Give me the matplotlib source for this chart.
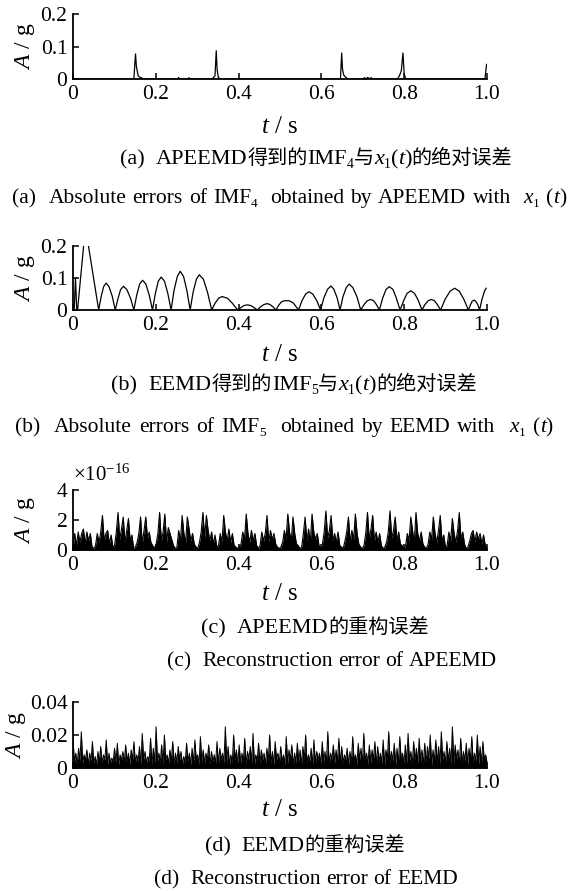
import numpy as np
import matplotlib
matplotlib.use('Agg')
import matplotlib.pyplot as plt
from matplotlib.transforms import IdentityTransform

SERIF = 'Liberation Serif'
CJK = 'Noto Sans CJK SC'
plt.rcParams['font.family'] = [SERIF, CJK]
plt.rcParams['mathtext.fontset'] = 'custom'
plt.rcParams['mathtext.rm'] = SERIF
plt.rcParams['mathtext.it'] = SERIF + ':italic'

# ---- data ----
x_ticks = [0, 0.2, 0.4, 0.6, 0.8, 1.0]
x_tick_labels = ['0', '0.2', '0.4', '0.6', '0.8', '1.0']

# (a) APEEMD IMF4 absolute error
t_a = [0.0, 0.147, 0.151, 0.153, 0.157, 0.160, 0.165, 0.170, 0.254, 0.255, 0.256,
       0.279, 0.280, 0.281, 0.336, 0.340, 0.343, 0.346, 0.348, 0.351, 0.355,
       0.646, 0.649, 0.651, 0.654, 0.658, 0.664, 0.700, 0.704, 0.708, 0.712,
       0.716, 0.720, 0.725, 0.730, 0.784, 0.789, 0.793, 0.797, 0.800, 0.804,
       0.995, 0.999]
a_err = [0.0, 0.0, 0.077, 0.040, 0.012, 0.006, 0.004, 0.0, 0.0, 0.005, 0.0,
         0.0, 0.004, 0.0, 0.0, 0.006, 0.010, 0.087, 0.030, 0.006, 0.0,
         0.0, 0.080, 0.030, 0.012, 0.006, 0.0, 0.0, 0.004, 0.0, 0.005,
         0.0, 0.004, 0.0, 0.0, 0.0, 0.012, 0.025, 0.080, 0.015, 0.0,
         0.0, 0.045]

# (b) EEMD IMF5 absolute error (one row per arch)
t_b = [0.0, 0.003, 0.006, 0.009, 0.011, 0.030,
       0.062, 0.068, 0.074, 0.080, 0.087, 0.095, 0.102,
       0.109, 0.115, 0.122, 0.130, 0.139, 0.147,
       0.154, 0.161, 0.168, 0.176, 0.184, 0.192,
       0.199, 0.206, 0.213, 0.221, 0.229, 0.237,
       0.244, 0.252, 0.259, 0.267, 0.275, 0.283,
       0.290, 0.298, 0.305, 0.315, 0.325, 0.335,
       0.343, 0.352, 0.360, 0.373, 0.385, 0.398,
       0.406, 0.413, 0.421, 0.429, 0.437, 0.445,
       0.453, 0.461, 0.469, 0.476, 0.483, 0.490,
       0.497, 0.503, 0.510, 0.522, 0.532, 0.545,
       0.553, 0.562, 0.570, 0.579, 0.589, 0.598,
       0.606, 0.615, 0.623, 0.630, 0.638, 0.645,
       0.652, 0.660, 0.667, 0.676, 0.686, 0.695,
       0.703, 0.711, 0.719, 0.726, 0.733, 0.740,
       0.748, 0.756, 0.764, 0.773, 0.781, 0.790,
       0.799, 0.807, 0.816, 0.825, 0.834, 0.843,
       0.850, 0.858, 0.865, 0.873, 0.880, 0.888,
       0.899, 0.911, 0.922, 0.933, 0.944, 0.955,
       0.960, 0.964, 0.969, 0.973, 0.978, 0.982,
       0.988, 0.994, 0.998]
b_err = [0.0, 0.0, 0.100, 0.0, 0.0, 0.26,
         0.0, 0.042, 0.073, 0.084, 0.073, 0.042, 0.0,
         0.037, 0.064, 0.074, 0.064, 0.037, 0.0,
         0.047, 0.081, 0.093, 0.081, 0.047, 0.0,
         0.052, 0.090, 0.103, 0.090, 0.052, 0.0,
         0.061, 0.105, 0.121, 0.105, 0.061, 0.0,
         0.055, 0.096, 0.110, 0.096, 0.055, 0.0,
         0.021, 0.037, 0.042, 0.037, 0.021, 0.0,
         0.008, 0.014, 0.016, 0.014, 0.008, 0.0,
         0.010, 0.017, 0.020, 0.017, 0.010, 0.0,
         0.015, 0.025, 0.029, 0.029, 0.022, 0.0,
         0.029, 0.050, 0.057, 0.050, 0.029, 0.0,
         0.038, 0.065, 0.075, 0.065, 0.038, 0.0,
         0.041, 0.070, 0.081, 0.070, 0.041, 0.0,
         0.017, 0.029, 0.033, 0.029, 0.017, 0.0,
         0.037, 0.064, 0.073, 0.064, 0.037, 0.0,
         0.030, 0.052, 0.060, 0.052, 0.030, 0.0,
         0.017, 0.029, 0.033, 0.029, 0.017, 0.0,
         0.034, 0.059, 0.068, 0.059, 0.034, 0.0,
         0.016, 0.027, 0.031, 0.027, 0.016, 0.0,
         0.034, 0.059, 0.068]

# (c) APEEMD reconstruction error, units of 1e-16
c_err = [0.1, 1.1, 0.3, 1.2, 0.5, 1.1, 1.4, 0.4, 1.2, 0.6, 1.1, 0.2,
         0.1, 0.3, 1.1, 0.5, 1.2, 2.3, 0.6, 1.1, 1.3, 0.4, 1.0, 0.2,
         0.3, 1.2, 2.5, 0.7, 1.4, 2.2, 0.5, 1.3, 2.1, 0.6, 1.0, 0.1,
         0.2, 0.5, 1.1, 2.2, 0.4, 1.3, 2.2, 0.8, 1.2, 0.5, 0.3, 0.1,
         0.4, 1.1, 2.5, 0.6, 1.2, 2.4, 0.5, 1.5, 1.1, 0.7, 0.3, 0.1,
         0.2, 1.3, 0.6, 2.3, 1.1, 0.5, 2.2, 1.4, 0.6, 1.1, 0.4, 0.2,
         0.1, 0.5, 1.2, 2.5, 0.8, 2.3, 1.3, 0.6, 1.2, 0.4, 1.0, 0.2,
         0.3, 1.1, 0.5, 2.3, 1.2, 0.6, 1.4, 0.5, 1.1, 0.3, 0.2, 0.1,
         0.2, 0.4, 1.2, 0.7, 2.4, 1.1, 0.5, 1.3, 0.6, 1.1, 0.3, 0.1,
         0.3, 1.2, 0.6, 1.1, 2.3, 0.5, 1.3, 0.7, 1.1, 0.4, 0.2, 0.1,
         0.2, 0.5, 1.3, 0.7, 2.4, 1.2, 0.6, 2.2, 1.1, 0.4, 0.3, 0.1,
         0.2, 1.1, 2.2, 0.6, 1.4, 0.5, 2.4, 1.2, 0.7, 1.1, 0.3, 0.1,
         0.4, 1.2, 2.6, 0.8, 1.3, 2.3, 0.6, 1.1, 0.5, 1.2, 0.3, 0.2,
         0.1, 0.6, 1.2, 2.2, 0.5, 1.3, 0.7, 2.4, 1.1, 0.4, 0.2, 0.1,
         0.3, 1.1, 2.5, 0.7, 1.4, 2.3, 0.6, 1.2, 0.5, 1.1, 0.3, 0.1,
         0.2, 0.5, 1.2, 2.6, 0.8, 1.3, 2.2, 0.6, 1.2, 0.4, 0.3, 0.1,
         0.3, 1.1, 0.6, 2.2, 1.3, 0.5, 2.5, 1.1, 0.6, 1.2, 0.4, 0.2,
         0.1, 0.4, 1.2, 0.7, 2.2, 1.1, 0.5, 1.3, 2.3, 0.6, 1.0, 0.2,
         0.3, 1.2, 0.6, 2.1, 1.1, 0.5, 1.3, 2.5, 0.7, 1.2, 0.4, 0.1,
         0.2, 0.6, 1.1, 1.3, 0.5, 1.2, 0.7, 1.1, 0.4, 1.0, 0.3, 0.2]

# (d) EEMD reconstruction error, units of 1e-3
d_err = [18, 3, 9, 2, 12, 4, 22, 3, 8, 5, 11, 2, 9, 4, 16, 3, 7, 2, 10, 4,
         13, 3, 8, 5, 17, 2, 9, 3, 6, 4, 12, 3, 15, 2, 8, 5, 10, 3, 14, 4,
         9, 2, 11, 5, 16, 3, 8, 4, 13, 2, 21, 5, 10, 3, 7, 4, 18, 2, 12, 3,
         25, 4, 9, 3, 14, 2, 20, 5, 8, 3, 11, 4, 16, 2, 9, 3, 13, 5, 10, 2,
         7, 3, 15, 4, 9, 2, 12, 3, 17, 5, 8, 2, 19, 4, 11, 3, 9, 5, 14, 2,
         10, 4, 8, 3, 16, 2, 12, 5, 9, 3, 25, 4, 13, 2, 8, 3, 20, 5, 11, 2,
         14, 3, 9, 4, 18, 2, 10, 5, 13, 3, 21, 2, 8, 4, 15, 3, 11, 5, 9, 2,
         12, 4, 20, 3, 10, 2, 16, 5, 9, 3, 13, 4, 8, 2, 19, 3, 11, 5, 14, 2,
         9, 3, 15, 4, 11, 2, 13, 5, 20, 3, 8, 4, 12, 2, 17, 3, 10, 5, 9, 2,
         16, 4, 10, 3, 22, 2, 9, 5, 14, 3, 11, 4, 18, 2, 13, 3, 8, 5, 12, 2,
         10, 3, 19, 4, 8, 2, 15, 5, 12, 3, 21, 4, 9, 2, 14, 3, 11, 5, 16, 2,
         13, 4, 9, 3, 17, 2, 11, 5, 22, 3, 10, 4, 15, 2, 12, 3, 19, 5, 9, 2,
         14, 3, 21, 4, 10, 2, 16, 5, 12, 3, 18, 4, 11, 2, 15, 3, 13, 5, 20, 2,
         11, 4, 17, 3, 13, 2, 22, 5, 10, 3, 16, 4, 12, 2, 25, 3, 14, 5, 11, 2,
         18, 3, 10, 4, 15, 2, 12, 5, 19, 3, 9, 4, 20, 2, 13, 3, 16, 5, 8, 4]

t_c = np.linspace(0, 1, len(c_err))
t_d = np.linspace(0, 1, len(d_err))
d_vals = np.array(d_err) / 1000

W, H = 570, 891
TICK_FS = 15.5
fig = plt.figure(figsize=(W / 100, H / 100), dpi=100)


def panel(top_px, zero_px, yticks, ylabels, xlab_gap, ylab_x):
    ax = fig.add_axes([73 / W, 1 - zero_px / H, 414 / W, (zero_px - top_px) / H])
    ax.set_xlim(0, 1)
    ax.set_ylim(yticks[0], yticks[-1])
    ax.set_xticks(x_ticks, x_tick_labels)
    ax.set_yticks(yticks, ylabels)
    for s in ['top', 'right']:
        ax.spines[s].set_visible(False)
    for s in ['left', 'bottom']:
        ax.spines[s].set_linewidth(1.3)
    ax.tick_params(direction='in', length=4, width=1.1, labelsize=TICK_FS, pad=4)
    ax.set_xlabel(r'$t$ / s', fontsize=18, va='top')
    ax.xaxis.set_label_coords(0.5, -xlab_gap / (zero_px - top_px))
    ax.set_ylabel(r'$A$ / g', fontsize=17)
    ax.yaxis.set_label_coords((ylab_x - 73) / 414, 0.5)
    return ax


ax_a = panel(14, 79, [0, 0.1, 0.2], ['0', '0.1', '0.2'], 37, 37)
ax_a.plot(t_a, a_err, color='black', lw=0.9)

ax_b = panel(246, 310, [0, 0.1, 0.2], ['0', '0.1', '0.2'], 34, 37)
ax_b.plot(t_b, b_err, color='black', lw=0.9)

ax_c = panel(490, 550, [0, 2, 4], ['0', '2', '4'], 33, 37)
ax_c.fill_between(t_c, c_err, color='black', lw=0)
ax_c.plot(t_c, c_err, color='black', lw=0.8)
ax_c.annotate('×10$^{-16}$', xy=(0, 1), xycoords='axes fraction',
              xytext=(0, 3), textcoords='offset points', fontsize=15,
              ha='left', va='bottom')

ax_d = panel(702, 768, [0, 0.02, 0.04], ['0', '0.02', '0.04'], 31, 28)
ax_d.fill_between(t_d, d_vals, color='black', lw=0)
ax_d.plot(t_d, d_vals, color='black', lw=0.7)


def caption(runs, xc, base_px, size=16, cjk_size=14.5, width=None):
    rend = fig.canvas.get_renderer()
    sp = 0.25 * size * 100 / 72
    # split plain runs into words so that spaces can be stretched
    items = []
    for s, kind in runs:
        if kind in ('rm', 'it') and ' ' in s:
            words = s.split(' ')
            for i, wd in enumerate(words):
                if i:
                    items.append((' ', 'sp'))
                items.append((wd, kind))
        else:
            items.append((s, kind))
    placed = []
    n_sp = 0
    text_w = 0.0
    for s, kind in items:
        if kind == 'sp':
            n_sp += len(s)
            placed.append((None, len(s), 0.0))
            continue
        kw = {'fontsize': size, 'family': [SERIF, CJK]}
        dy = 0.0
        if kind == 'cjk':
            kw['family'] = [CJK]
            kw['fontsize'] = cjk_size
        elif kind == 'it':
            kw['style'] = 'italic'
        elif kind == 'sub':
            kw['fontsize'] = size * 0.62
            dy = -0.2 * size * 100 / 72
        t = fig.text(0, 0, s, transform=IdentityTransform(), ha='left',
                     va='baseline', **kw)
        w = t.get_window_extent(renderer=rend).width
        placed.append((t, w, dy))
        text_w += w
    if width is not None and n_sp:
        sp = (width - text_w) / n_sp
    total = text_w + sp * n_sp
    x = xc - total / 2
    for t, w, dy in placed:
        if t is None:
            x += sp * w
            continue
        t.set_position((x, H - base_px + dy))
        x += w


caption([('(a)', 'rm'), ('  ', 'sp'), ('APEEMD', 'rm'), ('得到的', 'cjk'),
         ('IMF', 'rm'), ('4', 'sub'), ('与', 'cjk'), ('x', 'it'), ('1', 'sub'),
         ('(', 'rm'), ('t', 'it'), (')', 'rm'), ('的绝对误差', 'cjk')], 316, 164)
caption([('(a)', 'rm'), ('  ', 'sp'), ('Absolute errors of IMF', 'rm'), ('4', 'sub'),
         ('  ', 'sp'), ('obtained by APEEMD with', 'rm'), ('  ', 'sp'),
         ('x', 'it'), ('1', 'sub'), (' ', 'sp'), ('(', 'rm'), ('t', 'it'),
         (')', 'rm')], 289, 203, size=15.5, width=554)
caption([('(b)', 'rm'), ('  ', 'sp'), ('EEMD', 'rm'), ('得到的', 'cjk'),
         ('IMF', 'rm'), ('5', 'sub'), ('与', 'cjk'), ('x', 'it'), ('1', 'sub'),
         ('(', 'rm'), ('t', 'it'), (')', 'rm'), ('的绝对误差', 'cjk')], 294, 390)
caption([('(b)', 'rm'), ('  ', 'sp'), ('Absolute errors of IMF', 'rm'), ('5', 'sub'),
         ('  ', 'sp'), ('obtained by EEMD with', 'rm'), ('  ', 'sp'),
         ('x', 'it'), ('1', 'sub'), (' ', 'sp'), ('(', 'rm'), ('t', 'it'),
         (')', 'rm')], 284, 432, size=15.5, width=538)
caption([('(c)', 'rm'), ('  ', 'sp'), ('APEEMD', 'rm'), ('的重构误差', 'cjk')], 315, 633)
caption([('(c)', 'rm'), ('  ', 'sp'), ('Reconstruction error of APEEMD', 'rm')],
        332, 666, size=15.5)
caption([('(d)', 'rm'), ('  ', 'sp'), ('EEMD', 'rm'), ('的重构误差', 'cjk')], 305, 851)
caption([('(d)', 'rm'), ('  ', 'sp'), ('Reconstruction error of EEMD', 'rm')],
        306, 884, size=15.5)

fig.savefig('out.png', dpi=100)
